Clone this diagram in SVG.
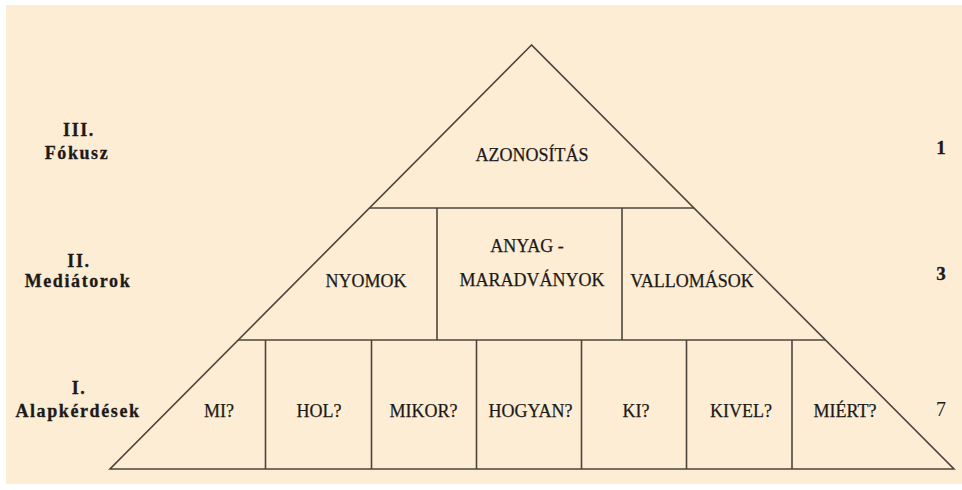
<svg xmlns="http://www.w3.org/2000/svg" width="962" height="490" viewBox="0 0 962 490">
<style>
.ln{stroke:#4d443b;stroke-width:1.6;fill:none;stroke-linejoin:miter}
text{font-family:'Liberation Serif','DejaVu Serif',serif;fill:#1c1a18;text-anchor:middle}
.t{font-size:18px;stroke:#1c1a18;stroke-width:0.25px}
.b{font-size:18px;font-weight:bold;letter-spacing:1.6px;stroke:#1c1a18;stroke-width:0.3px}
.num{font-size:19px;font-weight:bold;stroke:#1c1a18;stroke-width:0.3px}
</style>
<rect x="0" y="0" width="962" height="490" fill="#ffffff"/>
<rect x="6" y="5" width="956" height="479" fill="#fdedd5"/>
<g id="pyramid">
<polygon class="ln" points="531.5,45 110,469 954,469"/>
</g>
<g id="connectors">
<line class="ln" x1="369.5" y1="208" x2="694" y2="208"/>
<line class="ln" x1="238" y1="340" x2="825.5" y2="340"/>
<line class="ln" x1="437" y1="208" x2="437" y2="340"/>
<line class="ln" x1="622" y1="208" x2="622" y2="340"/>
<line class="ln" x1="265.5" y1="340" x2="265.5" y2="469"/>
<line class="ln" x1="371.5" y1="340" x2="371.5" y2="469"/>
<line class="ln" x1="476.5" y1="340" x2="476.5" y2="469"/>
<line class="ln" x1="581.5" y1="340" x2="581.5" y2="469"/>
<line class="ln" x1="686.5" y1="340" x2="686.5" y2="469"/>
<line class="ln" x1="792" y1="340" x2="792" y2="469"/>
</g>
<g font-family="Liberation Serif, serif">
<g id="n-azonositas"><text class="t" x="532" y="161">AZONOSÍTÁS</text></g>
<g id="n-nyomok"><text class="t" x="366" y="287">NYOMOK</text></g>
<g id="n-anyag"><text class="t" x="527" y="252">ANYAG -</text><text class="t" x="532" y="286">MARADVÁNYOK</text></g>
<g id="n-vallomasok"><text class="t" x="692" y="287">VALLOMÁSOK</text></g>
<g id="n-mi"><text class="t" x="219" y="417">MI?</text></g>
<g id="n-hol"><text class="t" x="319" y="417">HOL?</text></g>
<g id="n-mikor"><text class="t" x="423.5" y="417">MIKOR?</text></g>
<g id="n-hogyan"><text class="t" x="530.5" y="417">HOGYAN?</text></g>
<g id="n-ki"><text class="t" x="636" y="417">KI?</text></g>
<g id="n-kivel"><text class="t" x="741" y="417">KIVEL?</text></g>
<g id="n-miert"><text class="t" x="845" y="417">MIÉRT?</text></g>
<g id="l-3"><text class="b" x="79" y="136">III.</text><text class="b" x="77" y="159">Fókusz</text></g>
<g id="l-2"><text class="b" x="79" y="267">II.</text><text class="b" x="78" y="287">Mediátorok</text></g>
<g id="l-1"><text class="b" x="79" y="394">I.</text><text class="b" x="78" y="417">Alapkérdések</text></g>
<g id="c-1"><text class="num" x="941" y="154">1</text></g>
<g id="c-3"><text class="num" x="941" y="280">3</text></g>
<g id="c-7"><text x="941" y="416" font-size="20">7</text></g>
</g>
</svg>
